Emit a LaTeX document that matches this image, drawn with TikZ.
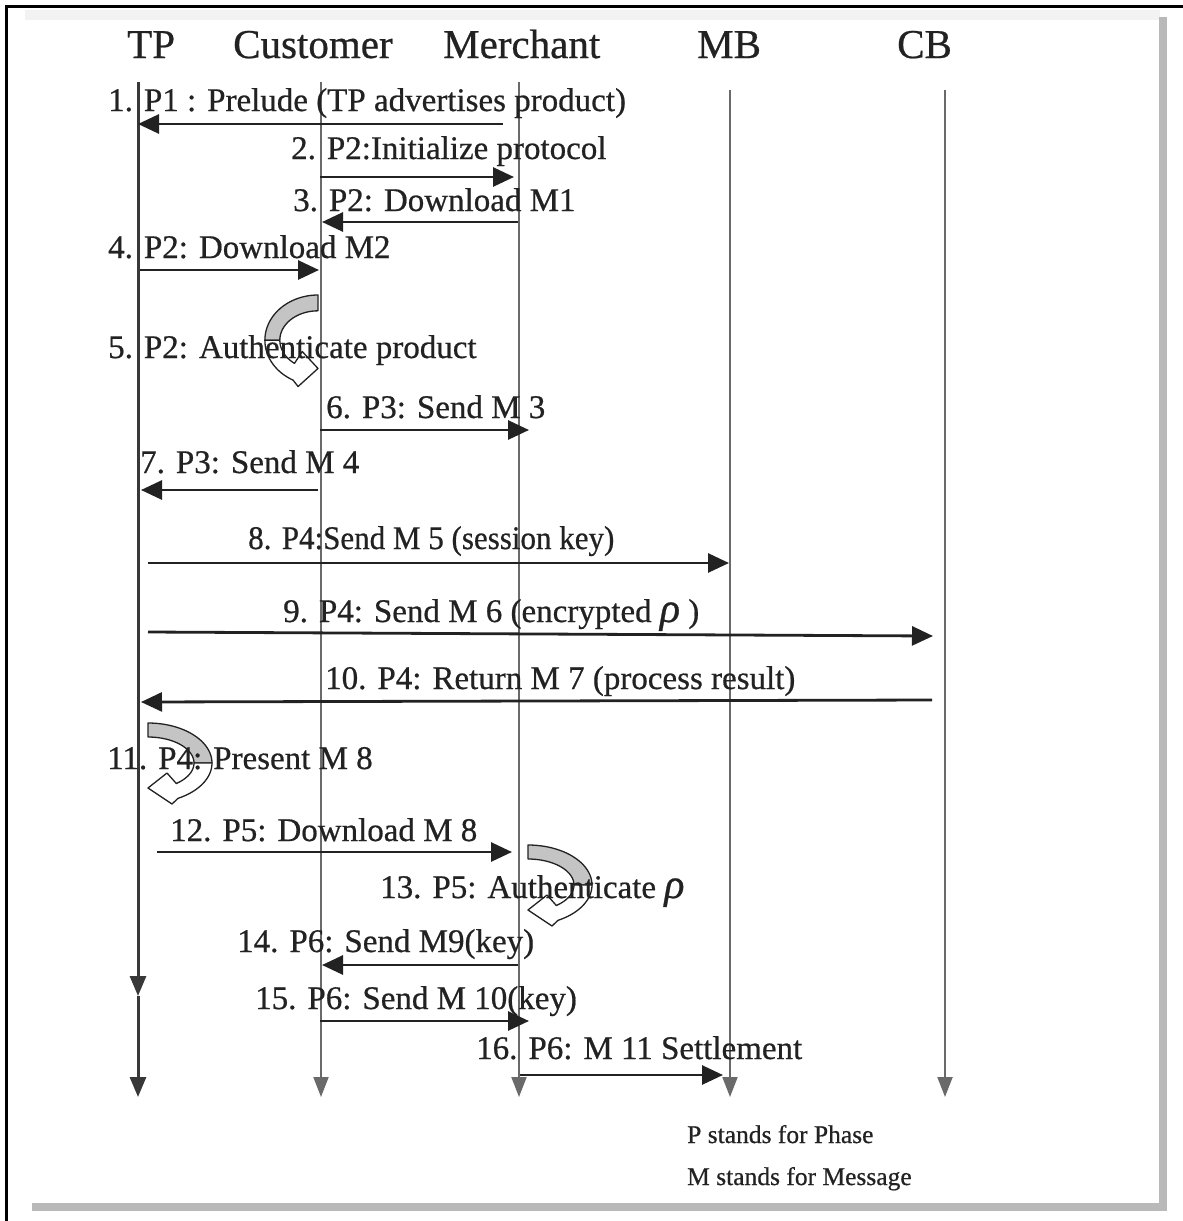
\documentclass[tikz,border=0pt]{standalone}
\usepackage{fontspec}
\setmainfont{Liberation Serif}
\newfontfamily\labelfont[FakeBold=0.6]{Liberation Serif}
\usetikzlibrary{arrows.meta}

\definecolor{ink}{HTML}{222222}
\definecolor{lifegray}{HTML}{6A6A6A}
\definecolor{framegray}{HTML}{B9B9B9}
\definecolor{loopgray}{HTML}{C4C4C4}

% Curved "self" arrow: gray back face on top, white front face with the head
\newcommand{\selfloop}[4]{%
  \begin{scope}[shift={(#1,#2)}, xscale=#3, yscale=#4]
    \filldraw[fill=loopgray, draw=ink, line width=1.3pt, line join=round]
      plot[domain=-90:0, samples=25, variable=\t] ({64*cos(\t)},{40+40*sin(\t)})
      -- plot[domain=0:-90, samples=25, variable=\t] ({46*cos(\t)},{40+26*sin(\t)})
      -- cycle;
    \filldraw[fill=white, draw=ink, line width=1.3pt, line join=round]
      plot[domain=0:62, samples=25, variable=\t] ({64*cos(\t)},{40+40*sin(\t)})
      -- (24,81) -- (0,65) -- (19,50)
      -- plot[domain=52:0, samples=25, variable=\t] ({46*cos(\t)},{40+26*sin(\t)})
      -- cycle;
  \end{scope}}

\begin{document}
\begin{tikzpicture}[x=1pt, y=-1pt,
  hdr/.style={font=\labelfont\fontsize{41}{46}\selectfont, text=ink, anchor=base west, inner sep=0pt},
  lbl/.style={font=\labelfont\fontsize{33}{38}\selectfont, text=ink, anchor=base west, inner sep=0pt},
  note/.style={font=\labelfont\fontsize{25.5}{30}\selectfont, text=ink, anchor=base west, inner sep=0pt},
  msg/.style={draw=ink, line width=2.8pt, -{Triangle[length=21pt,width=19pt]}},
  life/.style={draw=lifegray, line width=2pt, -{Triangle[length=20pt,width=15pt]}},
  tpline/.style={draw=ink!90, line width=3pt, -{Triangle[length=20pt,width=16pt]}}]

\useasboundingbox (0,0) rectangle (1183,1221);
\fill[white] (0,0) rectangle (1183,1221);

% page frame and its shadow
\fill[black!5] (25,10) rectangle (1160,20);
\fill[black] (5,5) rectangle (1183,8);
\fill[black] (5,5) rectangle (8,1221);
\fill[framegray] (1159,17) rectangle (1167,1211);
\fill[framegray] (32,1203) rectangle (1167,1211);

% participants
\node[hdr] (hTP)  at (127,58) {TP};
\node[hdr] (hCus) at (233,58) {Customer};
\node[hdr] (hMer) at (443,58) {Merchant};
\node[hdr] (hMB)  at (697,58) {MB};
\node[hdr] (hCB)  at (897,58) {CB};

% lifelines
\coordinate (tpTop) at (138,82);
\coordinate (tpMid) at (138,996);
\coordinate (tpEnd) at (138,1097);
\coordinate (cuTop) at (321,82);
\coordinate (cuEnd) at (321,1097);
\coordinate (meTop) at (519,82);
\coordinate (meEnd) at (519,1097);
\coordinate (mbTop) at (730,90);
\coordinate (mbEnd) at (730,1097);
\coordinate (cbTop) at (945,90);
\coordinate (cbEnd) at (945,1097);

\draw[life] (cuTop) -- (cuEnd);
\draw[life] (meTop) -- (meEnd);
\draw[life] (mbTop) -- (mbEnd);
\draw[life] (cbTop) -- (cbEnd);
\draw[tpline] (tpTop) -- (tpMid);
\draw[tpline] (tpMid) -- (tpEnd);

% message end points
\coordinate (a1)  at (503,124);  \coordinate (b1)  at (138,124);
\coordinate (a2)  at (320,177);  \coordinate (b2)  at (514,177);
\coordinate (a3)  at (518,222);  \coordinate (b3)  at (322,222);
\coordinate (a4)  at (140,270);  \coordinate (b4)  at (319,270);
\coordinate (a6)  at (320,430);  \coordinate (b6)  at (529,430);
\coordinate (a7)  at (318,490);  \coordinate (b7)  at (141,490);
\coordinate (a8)  at (148,563);  \coordinate (b8)  at (729,563);
\coordinate (a9)  at (148,632);  \coordinate (b9)  at (933,636);
\coordinate (a10) at (932,700);  \coordinate (b10) at (141,702);
\coordinate (a12) at (157,852);  \coordinate (b12) at (512,852);
\coordinate (a14) at (518,965);  \coordinate (b14) at (322,965);
\coordinate (a15) at (320,1021); \coordinate (b15) at (529,1021);
\coordinate (a16) at (520,1075); \coordinate (b16) at (723,1075);

\foreach \m in {1,2,3,4,6,7,8,9,10,12,14,15,16}
  \draw[msg] (a\m) -- (b\m);

% local processing steps
\selfloop{318}{295}{-0.83}{1.13}
\selfloop{148}{723}{1}{1}
\selfloop{528}{845}{1}{1}

% message labels
\node[lbl] (l1)  at (108,111)  {1. P1 : Prelude (TP advertises product)};
\node[lbl] (l2)  at (291,159)  {2. P2:Initialize protocol};
\node[lbl] (l3)  at (293,211)  {3. P2: Download M1};
\node[lbl] (l4)  at (108,258)  {4. P2: Download M2};
\node[lbl] (l5)  at (108,358)  {5. P2: Authenticate product};
\node[lbl] (l6)  at (326,418)  {6. P3: Send M 3};
\node[lbl] (l7)  at (140,473)  {7. P3: Send M 4};
\node[lbl] (l8)  at (248,549)  {\scalebox{0.94}[1]{8. P4:Send M 5 (session key)}};
\node[lbl] (l9)  at (283,622)  {9. P4: Send M 6 (encrypted {\fontsize{42}{42}\selectfont\itshape ρ} )};
\node[lbl] (l10) at (325,689)  {10. P4: Return M 7 (process result)};
\node[lbl] (l11) at (107,769)  {11. P4: Present M 8};
\node[lbl] (l12) at (170,841)  {12. P5: Download M 8};
\node[lbl] (l13) at (380,898)  {13. P5: Authenticate {\fontsize{42}{42}\selectfont\itshape ρ}};
\node[lbl] (l14) at (237,952)  {14. P6: Send M9(key)};
\node[lbl] (l15) at (255,1009) {15. P6: Send M 10(key)};
\node[lbl] (l16) at (476,1059) {16. P6: M 11 Settlement};

% legend
\node[note] (n1) at (687,1143) {P stands for Phase};
\node[note] (n2) at (687,1185) {M stands for Message};

\end{tikzpicture}
\end{document}
